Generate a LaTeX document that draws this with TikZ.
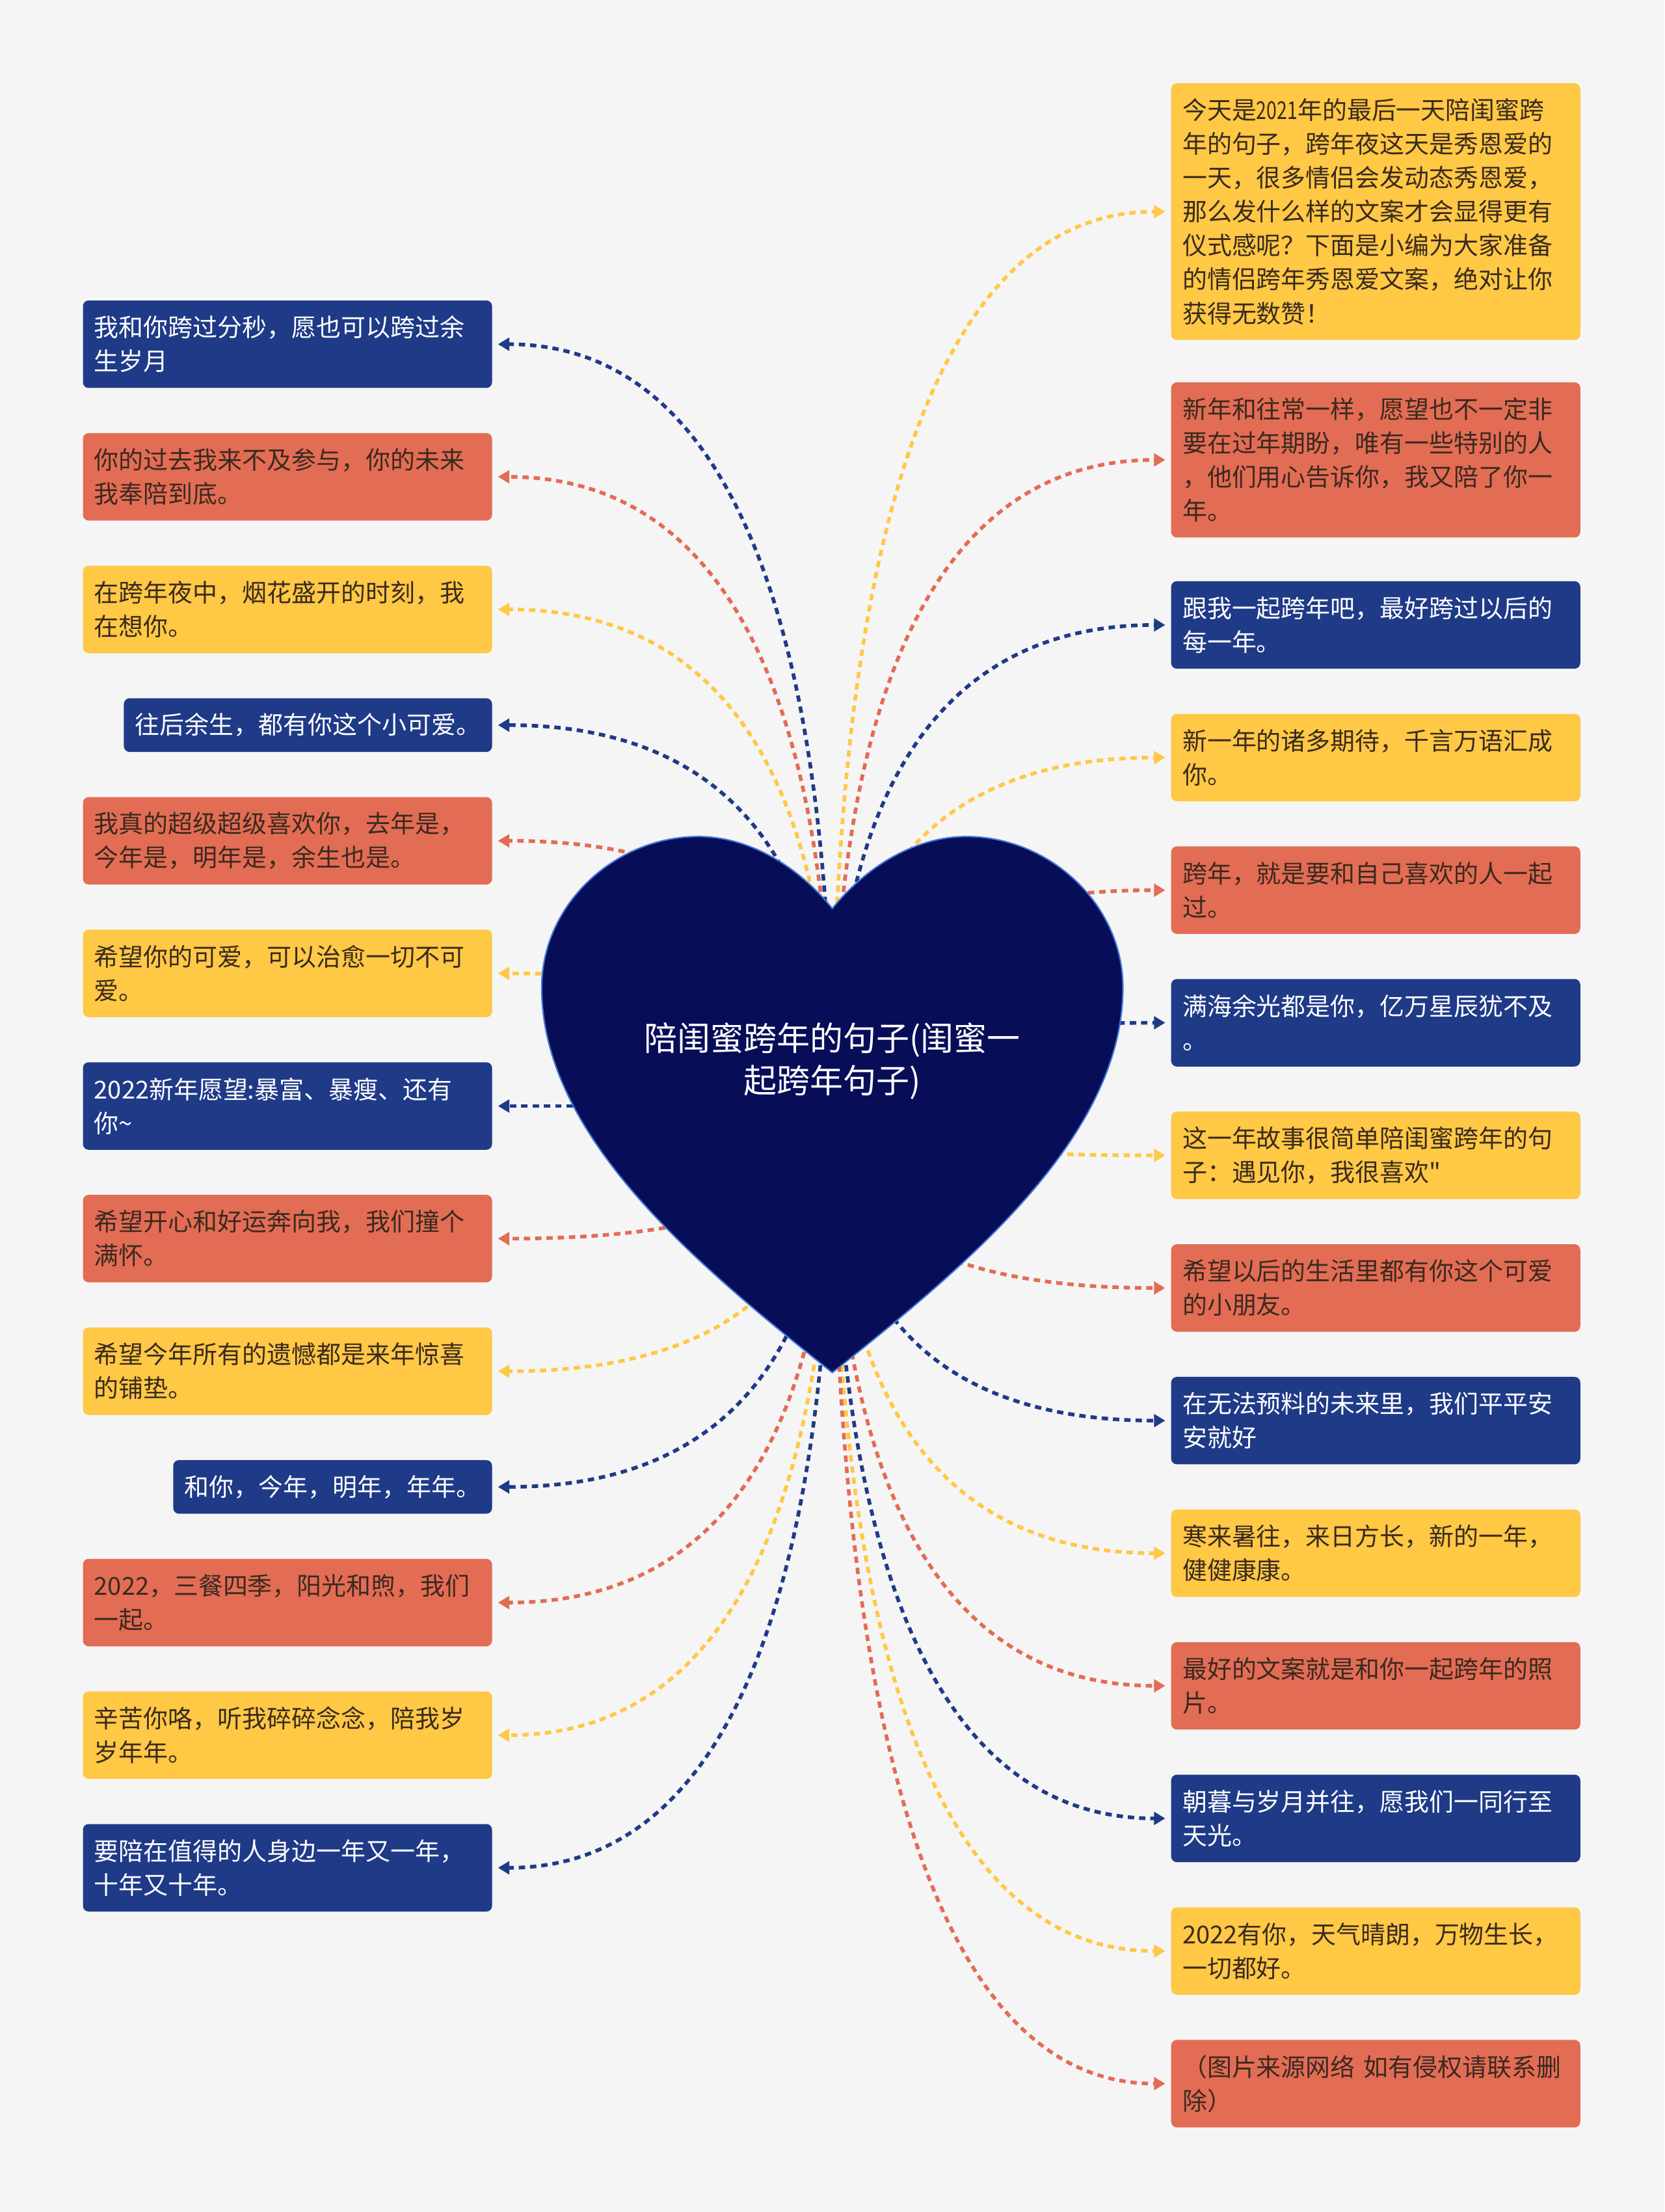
\documentclass[tikz,border=0pt]{standalone}
\usepackage{fontspec}
\usepackage{graphicx}
\newfontfamily\cjk{Noto Sans CJK SC}
\usetikzlibrary{arrows.meta,calc}
\definecolor{bg}{HTML}{F5F5F5}
\definecolor{cblue}{HTML}{1F3A87}
\definecolor{cred}{HTML}{E36C55}
\definecolor{cyel}{HTML}{FFC845}
\definecolor{ctxt}{HTML}{3A2A1F}
\definecolor{heartfill}{HTML}{080D58}
\definecolor{heartline}{HTML}{3F78D6}
\newcommand\linkL[2]{\draw[link,#1] (hc) .. controls ($(hc)!0.667!(hc|-#2.east)$) and ($(#2.east)!0.667!(hc|-#2.east)$) .. (#2.east);}
\newcommand\linkR[2]{\draw[link,#1] (hc) .. controls ($(hc)!0.667!(hc|-#2.west)$) and ($(#2.west)!0.667!(hc|-#2.west)$) .. (#2.west);}
\begin{document}
\begin{tikzpicture}[x=1pt,y=-1pt,
  lbox/.style={rounded corners=4pt, inner xsep=8pt, inner ysep=5pt, align=left, font=\cjk\fontsize{17.5}{24}\selectfont},
  wide/.style={text width=274pt},
  nl/.style={minimum height=24pt*#1+14pt},
  bbox/.style={lbox, fill=cblue, text=white},
  rbox/.style={lbox, fill=cred, text=ctxt},
  ybox/.style={lbox, fill=cyel, text=ctxt},
  link/.style={line width=2.6pt, dash pattern=on 4.5pt off 3.5pt, shorten >=4pt, -{Triangle[length=8pt,width=9pt]}}
]
\fill[bg] (0,0) rectangle (1180,1568);
\useasboundingbox (0,0) rectangle (1180,1568);
\coordinate (hc) at (590,784);

% left boxes
\node[bbox,wide,nl=2,anchor=east] (L1) at (349,244) {我和你跨过分秒，愿也可以跨过余\\生岁月};
\node[rbox,wide,nl=2,anchor=east] (L2) at (349,338) {你的过去我来不及参与，你的未来\\我奉陪到底。};
\node[ybox,wide,nl=2,anchor=east] (L3) at (349,432) {在跨年夜中，烟花盛开的时刻，我\\在想你。};
\node[bbox,nl=1,anchor=east] (L4) at (349,514) {往后余生，都有你这个小可爱。};
\node[rbox,wide,nl=2,anchor=east] (L5) at (349,596) {我真的超级超级喜欢你，去年是，\\今年是，明年是，余生也是。};
\node[ybox,wide,nl=2,anchor=east] (L6) at (349,690) {希望你的可爱，可以治愈一切不可\\爱。};
\node[bbox,wide,nl=2,anchor=east] (L7) at (349,784) {2022新年愿望:暴富、暴瘦、还有\\你\textasciitilde};
\node[rbox,wide,nl=2,anchor=east] (L8) at (349,878) {希望开心和好运奔向我，我们撞个\\满怀。};
\node[ybox,wide,nl=2,anchor=east] (L9) at (349,972) {希望今年所有的遗憾都是来年惊喜\\的铺垫。};
\node[bbox,nl=1,anchor=east] (L10) at (349,1054) {和你，今年，明年，年年。};
\node[rbox,wide,nl=2,anchor=east] (L11) at (349,1136) {2022，三餐四季，阳光和煦，我们\\一起。};
\node[ybox,wide,nl=2,anchor=east] (L12) at (349,1230) {辛苦你咯，听我碎碎念念，陪我岁\\岁年年。};
\node[bbox,wide,nl=2,anchor=east] (L13) at (349,1324) {要陪在值得的人身边一年又一年，\\十年又十年。};

% right boxes
\node[ybox,wide,nl=7,anchor=west] (R1) at (830,150) {今天是\scalebox{0.75}[1]{2021}年的最后一天陪闺蜜跨\\年的句子，跨年夜这天是秀恩爱的\\一天，很多情侣会发动态秀恩爱，\\那么发什么样的文案才会显得更有\\仪式感呢？下面是小编为大家准备\\的情侣跨年秀恩爱文案，绝对让你\\获得无数赞！};
\node[rbox,wide,nl=4,anchor=west] (R2) at (830,326) {新年和往常一样，愿望也不一定非\\要在过年期盼，唯有一些特别的人\\，他们用心告诉你，我又陪了你一\\年。};
\node[bbox,wide,nl=2,anchor=west] (R3) at (830,443) {跟我一起跨年吧，最好跨过以后的\\每一年。};
\node[ybox,wide,nl=2,anchor=west] (R4) at (830,537) {新一年的诸多期待，千言万语汇成\\你。};
\node[rbox,wide,nl=2,anchor=west] (R5) at (830,631) {跨年，就是要和自己喜欢的人一起\\过。};
\node[bbox,wide,nl=2,anchor=west] (R6) at (830,725) {满海余光都是你，亿万星辰犹不及\\。};
\node[ybox,wide,nl=2,anchor=west] (R7) at (830,819) {这一年故事很简单陪闺蜜跨年的句\\子：遇见你，我很喜欢"};
\node[rbox,wide,nl=2,anchor=west] (R8) at (830,913) {希望以后的生活里都有你这个可爱\\的小朋友。};
\node[bbox,wide,nl=2,anchor=west] (R9) at (830,1007) {在无法预料的未来里，我们平平安\\安就好};
\node[ybox,wide,nl=2,anchor=west] (R10) at (830,1101) {寒来暑往，来日方长，新的一年，\\健健康康。};
\node[rbox,wide,nl=2,anchor=west] (R11) at (830,1195) {最好的文案就是和你一起跨年的照\\片。};
\node[bbox,wide,nl=2,anchor=west] (R12) at (830,1289) {朝暮与岁月并往，愿我们一同行至\\天光。};
\node[ybox,wide,nl=2,anchor=west] (R13) at (830,1383) {2022有你，天气晴朗，万物生长，\\一切都好。};
\node[rbox,wide,nl=2,anchor=west] (R14) at (830,1477) {（图片来源网络 如有侵权请联系删\\除）};

% connectors
\linkL{cblue}{L1}
\linkL{cred}{L2}
\linkL{cyel}{L3}
\linkL{cblue}{L4}
\linkL{cred}{L5}
\linkL{cyel}{L6}
\linkL{cblue}{L7}
\linkL{cred}{L8}
\linkL{cyel}{L9}
\linkL{cblue}{L10}
\linkL{cred}{L11}
\linkL{cyel}{L12}
\linkL{cblue}{L13}
\linkR{cyel}{R1}
\linkR{cred}{R2}
\linkR{cblue}{R3}
\linkR{cyel}{R4}
\linkR{cred}{R5}
\linkR{cblue}{R6}
\linkR{cyel}{R7}
\linkR{cred}{R8}
\linkR{cblue}{R9}
\linkR{cyel}{R10}
\linkR{cred}{R11}
\linkR{cblue}{R12}
\linkR{cyel}{R13}
\linkR{cred}{R14}

% heart
\filldraw[fill=heartfill, draw=heartline, line width=1pt]
  (590,644) .. controls (565,613) and (530,593) .. (495,593)
  .. controls (436,593) and (384,641) .. (384,700)
  .. controls (384,805) and (492,895) .. (590,973)
  .. controls (688,895) and (796,805) .. (796,700)
  .. controls (796,641) and (744,593) .. (685,593)
  .. controls (650,593) and (615,613) .. (590,644) -- cycle;
\node[font=\cjk\fontsize{23.5}{30}\selectfont, text=white, align=center] (title) at (590,752) {陪闺蜜跨年的句子(闺蜜一\\起跨年句子)};
\end{tikzpicture}
\end{document}
